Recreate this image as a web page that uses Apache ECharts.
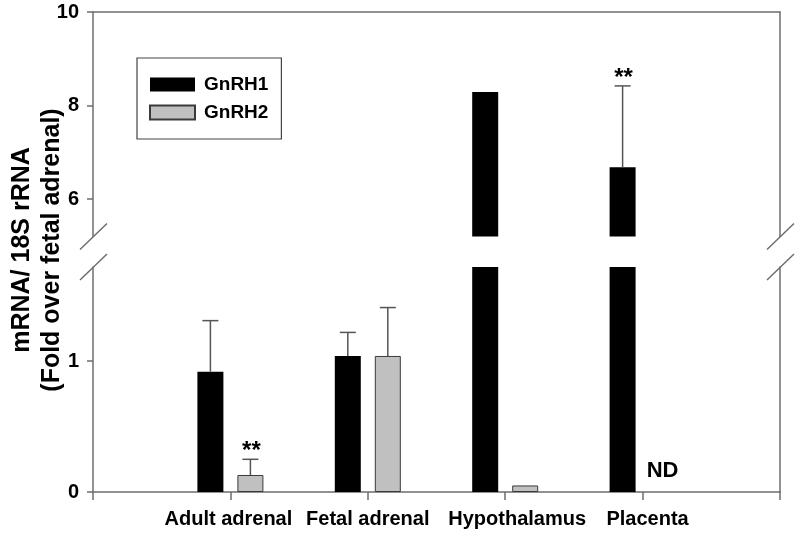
<!DOCTYPE html>
<html><head><meta charset="utf-8">
<script src="https://cdn.jsdelivr.net/npm/echarts@6/dist/echarts.min.js"></script>
<style>html,body{margin:0;padding:0;background:#fff}#c{width:800px;height:539px}</style>
</head><body><div id="c"></div>
<script>
// ---- data ----
const categories = ['', 'Adult adrenal', 'Fetal adrenal', 'Hypothalamus', 'Placenta', ''];
const gnrh1 = [null, 0.92, 1.04, 8.29, 6.68, null];
const gnrh2 = [null, 0.13, 1.04, 0.05, null, null];
const gnrh1Err = [null, 0.39, 0.18, null, 1.74, null];
const gnrh2Err = [null, 0.12, 0.37, null, null, null];
const gnrh1Sig = ['', '', '', '', '**', ''];
const gnrh2Sig = ['', '**', '', '', '', ''];
const gnrh2Note = ['', '', '', '', 'ND', ''];
const upperTicks = [6, 8, 10];
const lowerTicks = [0, 1];
const upperRange = [5.2, 10];
const lowerRange = [0, 1.72];
const yTitle = 'mRNA/ 18S rRNA\n(Fold over fetal adrenal)';

// ---- style ----
const FONT = '"Liberation Sans", Arial, sans-serif';
const AXIS = '#6e6e6e';
const BAR_W = 26;
const HALF = 20; // half distance between paired bar centres
const LABEL_SHIFT = {'Adult adrenal': -2, 'Fetal adrenal': 0, 'Hypothalamus': 12, 'Placenta': 5};

const chart = echarts.init(document.getElementById('c'), null, {renderer: 'canvas'});

function valueAxis(gridIdx, range, ticks, pos, showLabels) {
  return {
    type: 'value', gridIndex: gridIdx, position: pos, min: range[0], max: range[1],
    splitLine: {show: false},
    axisLine: {show: true, onZero: false, lineStyle: {color: AXIS, width: 1.5}},
    axisTick: {show: showLabels, length: 6, customValues: ticks, lineStyle: {color: AXIS, width: 1.5}},
    axisLabel: {show: showLabels, customValues: ticks, margin: 14, color: '#000',
      fontFamily: FONT, fontWeight: 'bold', fontSize: 20}
  };
}

function errSeries(vals, errs, sigs, notes, dir, xi, yi, range) {
  const data = [];
  vals.forEach((v, i) => { if (v !== null || (notes && notes[i])) data.push([i, v === null ? 0 : v]); });
  return {
    type: 'custom', xAxisIndex: xi, yAxisIndex: yi, silent: true, z: 5, clip: false,
    encode: {x: 0, y: 1},
    data: data,
    renderItem: function (params, api) {
      const i = api.value(0);
      const v = vals[i];
      const e = errs[i];
      const children = [];
      if (v !== null && v >= range[0] && v <= range[1]) {
        let topVal = v;
        if (e !== null) {
          topVal = v + e;
          const p0 = api.coord([i, v]);
          const p1 = api.coord([i, topVal]);
          const x = p0[0] + dir * HALF;
          children.push({type: 'line', shape: {x1: x, y1: p0[1], x2: x, y2: p1[1]},
            style: {stroke: '#555', lineWidth: 1.5}});
          children.push({type: 'line', shape: {x1: x - 8, y1: p1[1], x2: x + 8, y2: p1[1]},
            style: {stroke: '#555', lineWidth: 1.5}});
        }
        if (sigs[i]) {
          const p = api.coord([i, topVal]);
          children.push({type: 'text', x: p[0] + dir * HALF + 1, y: p[1] - 8,
            style: {text: sigs[i], align: 'center', verticalAlign: 'middle', fill: '#000',
              font: 'bold 24px ' + FONT}});
        }
      }
      if (notes && notes[i] && range[0] <= 0) {
        const p = api.coord([i, 0]);
        children.push({type: 'text', x: p[0] + dir * HALF, y: p[1] - 10,
          style: {text: notes[i], align: 'center', verticalAlign: 'bottom', fill: '#000',
            font: 'bold 22px ' + FONT}});
      }
      return {type: 'group', children: children};
    }
  };
}

function barSeries(name, data, xi, yi) {
  const isG2 = name === 'GnRH2';
  return {
    type: 'bar', name: name, xAxisIndex: xi, yAxisIndex: yi, data: data,
    barWidth: BAR_W, barGap: ((2 * HALF - BAR_W) / BAR_W * 100) + '%',
    itemStyle: isG2 ? {color: '#c0c0c0', borderColor: '#3a3a3a', borderWidth: 1}
                    : {color: '#000', borderColor: '#000', borderWidth: 0},
    emphasis: {disabled: true}
  };
}

const labelRich = {};
Object.keys(LABEL_SHIFT).forEach((k, j) => {
  const s = LABEL_SHIFT[k];
  labelRich['l' + j] = {fontFamily: FONT, fontWeight: 'bold', fontSize: 20, color: '#000',
    padding: s >= 0 ? [0, 0, 0, 2 * s] : [0, -2 * s, 0, 0]};
});

const option = {
  animation: false,
  backgroundColor: '#fff',
  grid: [
    {left: 93, right: 20, top: 12, height: 224.5},
    {left: 93, right: 20, top: 267, bottom: 47}
  ],
  legend: {
    data: ['GnRH1', 'GnRH2'], orient: 'vertical', left: 137, top: 58,
    icon: 'rect', itemWidth: 45, itemHeight: 14, itemGap: 9,
    padding: [17, 13, 17, 12], borderColor: '#444', borderWidth: 1.2,
    selectedMode: false,
    textStyle: {fontFamily: FONT, fontWeight: 'bold', fontSize: 19, color: '#000', lineHeight: 14,
      padding: [0, 0, 0, 4]}
  },
  xAxis: [
    {type: 'category', gridIndex: 0, position: 'top', data: categories, boundaryGap: false,
      axisLine: {show: true, onZero: false, lineStyle: {color: AXIS, width: 1.5}},
      axisTick: {show: false}, axisLabel: {show: false}},
    {type: 'category', gridIndex: 1, position: 'bottom', data: categories, boundaryGap: false,
      axisLine: {show: true, onZero: false, lineStyle: {color: AXIS, width: 1.5}},
      axisTick: {show: true, length: 8, lineStyle: {color: AXIS, width: 1.5}},
      axisLabel: {show: true, interval: 0, margin: 17, color: '#000',
        fontFamily: FONT, fontWeight: 'bold', fontSize: 20,
        formatter: function (val) {
          const j = Object.keys(LABEL_SHIFT).indexOf(val);
          return j < 0 ? val : '{l' + j + '|' + val + '}';
        },
        rich: labelRich}}
  ],
  yAxis: [
    valueAxis(0, upperRange, upperTicks, 'left', true),
    valueAxis(0, upperRange, upperTicks, 'right', false),
    valueAxis(1, lowerRange, lowerTicks, 'left', true),
    valueAxis(1, lowerRange, lowerTicks, 'right', false)
  ],
  series: [
    barSeries('GnRH1', gnrh1, 0, 0),
    barSeries('GnRH2', gnrh2, 0, 0),
    barSeries('GnRH1', gnrh1, 1, 2),
    barSeries('GnRH2', gnrh2, 1, 2),
    errSeries(gnrh1, gnrh1Err, gnrh1Sig, null, -1, 0, 0, upperRange),
    errSeries(gnrh2, gnrh2Err, gnrh2Sig, null, 1, 0, 0, upperRange),
    errSeries(gnrh1, gnrh1Err, gnrh1Sig, null, -1, 1, 2, lowerRange),
    errSeries(gnrh2, gnrh2Err, gnrh2Sig, gnrh2Note, 1, 1, 2, lowerRange)
  ]
};
chart.setOption(option);

// axis-break marks and y title
const yb1 = chart.convertToPixel({yAxisIndex: 0}, upperRange[0]);
const yb2 = chart.convertToPixel({yAxisIndex: 2}, lowerRange[1]);
const xl = chart.convertToPixel({xAxisIndex: 1}, 0);
const xr = chart.convertToPixel({xAxisIndex: 1}, categories.length - 1);
const yTop = chart.convertToPixel({yAxisIndex: 0}, upperRange[1]);
const yBot = chart.convertToPixel({yAxisIndex: 2}, lowerRange[0]);
const marks = [];
[xl, xr].forEach(x => {
  [yb1, yb2].forEach(y => {
    marks.push({type: 'line', shape: {x1: x - 13, y1: y + 13, x2: x + 14, y2: y - 13},
      style: {stroke: AXIS, lineWidth: 1.5}, silent: true});
  });
});
marks.push({type: 'text', x: 37, y: (yTop + yBot) / 2 - 2, rotation: Math.PI / 2,
  style: {text: yTitle, align: 'center', verticalAlign: 'middle', fill: '#000',
    font: 'bold 25px ' + FONT, lineHeight: 30}, silent: true});
chart.setOption({graphic: marks});
</script>
</body></html>
